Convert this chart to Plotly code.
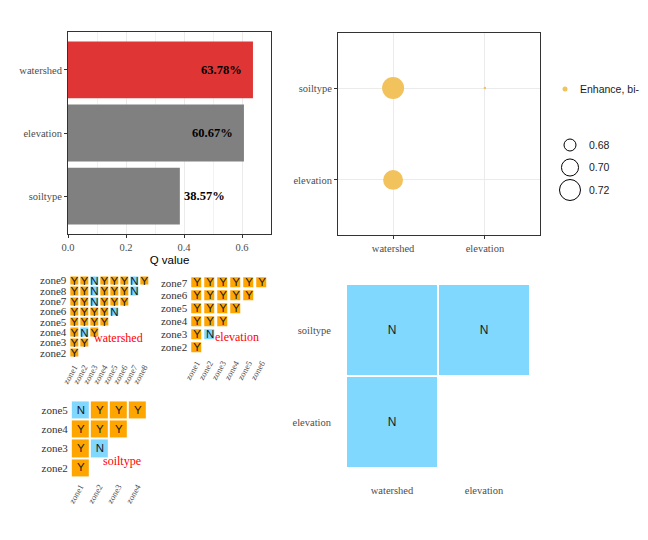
import numpy as np
import plotly.graph_objects as go

# factor detector (q values)
factors = ["watershed", "elevation", "soiltype"]
q_value = [0.6378, 0.6067, 0.3857]
bar_colors = ["#E03535", "#808080", "#808080"]

# interaction detector
inter_x = ["watershed", "elevation", "watershed"]
inter_y = ["soiltype", "soiltype", "elevation"]
inter_q = [0.726, 0.661, 0.714]
inter_type = ["Enhance, bi-", "Enhance, bi-", "Enhance, bi-"]
size_breaks = [0.68, 0.70, 0.72]

# risk detector: rows zone2..zoneN, each row compares with zone1..zone(k-1)
watershed_sig = ["Y", "YY", "YNY", "YYYY", "YYYYN", "YYNYYY", "YYNYYYN", "YYNYYYNY"]
elevation_sig = ["Y", "YN", "YYY", "YYYY", "YYYYY", "YYYYYY"]
soiltype_sig = ["Y", "YN", "YYY", "NYYY"]

# ecological detector
eco_x = ["watershed", "elevation", "watershed"]
eco_y = ["soiltype", "soiltype", "elevation"]
eco_sig = ["N", "N", "N"]

ORANGE = "#FFA500"
BLUE = "#80D8FF"
BUBBLE = "#F2C25C"
SERIF = "Liberation Serif, Times New Roman, serif"
SANS = "Liberation Sans, Arial, sans-serif"
W, H = 648, 540
OFF = 8  # page body margin


def px_x(a, b):
    return [(a - OFF) / W, (b - OFF) / W]


def px_y(top, bottom):
    return [1 - (bottom - OFF) / H, 1 - (top - OFF) / H]


def bubble_size(v):
    return np.sqrt(np.clip(144 + (np.asarray(v) - 0.68) * 7400, 6, None))


def sig_grid(rows):
    n = len(rows) + 1
    zones = ["zone%d" % i for i in range(1, n + 1)]
    xs = zones[:-1]
    ys = zones[1:]
    z, txt = [], []
    for r in rows:
        z.append([(1 if c == "Y" else 0) for c in r] + [None] * (len(xs) - len(r)))
        txt.append(list(r) + [""] * (len(xs) - len(r)))
    return xs, ys, z, txt


fig = go.Figure()

# ---- bar chart
fig.add_trace(go.Bar(
    x=q_value, y=factors, orientation="h", marker=dict(color=bar_colors, line=dict(width=0)),
    width=0.9, xaxis="x", yaxis="y", showlegend=False
))
for f, v in zip(factors, q_value):
    inside = v > 0.5
    fig.add_annotation(
        x=v, y=f, xref="x", yref="y", text="%.2f%%" % (v * 100), showarrow=False,
        xanchor="right" if inside else "left", xshift=-9 if inside else 2,
        font=dict(family=SERIF, size=12.5, color="black", weight="bold")
    )

# ---- interaction bubbles
fig.add_trace(go.Scatter(
    x=inter_x, y=inter_y, mode="markers",
    marker=dict(size=bubble_size(inter_q), color=BUBBLE, opacity=1, line=dict(width=0)),
    xaxis="x2", yaxis="y2", showlegend=False
))

# size legend
fig.add_trace(go.Scatter(
    x=[0] * len(size_breaks), y=["%.2f" % b for b in size_breaks], mode="markers",
    marker=dict(size=bubble_size(size_breaks), color="rgba(0,0,0,0)", opacity=1,
                line=dict(width=1, color="black")),
    xaxis="x8", yaxis="y8", showlegend=False
))

# colour legend
types = list(dict.fromkeys(inter_type))
fig.add_trace(go.Scatter(
    x=[0] * len(types), y=types, mode="markers",
    marker=dict(size=5, color=BUBBLE, opacity=1),
    xaxis="x9", yaxis="y9", showlegend=False
))

# ---- risk grids
colorscale = [[0, BLUE], [0.5, BLUE], [0.5, ORANGE], [1, ORANGE]]
for rows, ax, gap in [(watershed_sig, "4", 2), (elevation_sig, "5", 3), (soiltype_sig, "6", 2)]:
    xs, ys, z, txt = sig_grid(rows)
    fig.add_trace(go.Heatmap(
        x=xs, y=ys, z=z, text=txt, texttemplate="%{text}",
        textfont=dict(family=SANS, size=11.5, color="#1a1a1a"),
        colorscale=colorscale, zmin=0, zmax=1, showscale=False, xgap=gap, ygap=gap,
        xaxis="x" + ax, yaxis="y" + ax, hoverinfo="skip"
    ))

# ---- ecological detector
fig.add_trace(go.Heatmap(
    x=eco_x, y=eco_y, z=[0] * len(eco_sig), text=eco_sig, texttemplate="%{text}",
    textfont=dict(family=SANS, size=12, color="#1a1a1a"),
    colorscale=colorscale, zmin=0, zmax=1, showscale=False, xgap=2, ygap=2,
    xaxis="x7", yaxis="y7", hoverinfo="skip"
))

tickfont = dict(family=SERIF, size=10.5, color="#4d4d4d")
frame = dict(showline=True, mirror=True, linecolor="#333333", linewidth=1)
hidden = dict(showgrid=False, zeroline=False, showticklabels=False, ticks="", showline=False)

grid_x = dict(type="category", dtick=1, showgrid=False, zeroline=False, ticks="", tickangle=-60,
              tickfont=dict(family=SERIF, size=8.5, color="#4d4d4d"), ticklabelstandoff=2)
grid_y = dict(type="category", dtick=1, showgrid=False, zeroline=False, ticks="",
              tickfont=dict(family=SERIF, size=11, color="#333333"), ticklabelstandoff=2)

fig.update_layout(
    width=W, height=H, margin=dict(l=0, r=0, t=0, b=0, autoexpand=False),
    paper_bgcolor="white", plot_bgcolor="white", showlegend=False,
    xaxis=dict(domain=px_x(68, 271), anchor="y", range=[0, 0.70], dtick=0.2, tickformat=".1f",
               showgrid=True, gridcolor="#EBEBEB", zeroline=False,
               minor=dict(dtick=0.1, showgrid=True, gridcolor="#F2F2F2"),
               ticks="outside", ticklen=3, tickcolor="#333333", tickfont=tickfont,
               title=dict(text="Q value", font=dict(family=SANS, size=11.5, color="black"), standoff=4),
               **frame),
    yaxis=dict(domain=px_y(32, 234), anchor="x", type="category",
               categoryarray=factors[::-1], categoryorder="array", range=[-0.6, 2.6],
               showgrid=False, ticks="outside", ticklen=3, tickcolor="#333333", tickfont=tickfont,
               **frame),
    xaxis2=dict(domain=px_x(338, 540), anchor="y2", type="category",
                categoryarray=["watershed", "elevation"], categoryorder="array", range=[-0.6, 1.6],
                showgrid=True, gridcolor="#EBEBEB", ticks="outside", ticklen=3,
                tickcolor="#333333", tickfont=tickfont, **frame),
    yaxis2=dict(domain=px_y(33, 235), anchor="x2", type="category",
                categoryarray=["elevation", "soiltype"], categoryorder="array", range=[-0.6, 1.6],
                showgrid=True, gridcolor="#EBEBEB", ticks="outside", ticklen=3,
                tickcolor="#333333", tickfont=tickfont, **frame),
    xaxis8=dict(domain=px_x(554, 586), anchor="y8", range=[-1, 1], **hidden),
    yaxis8=dict(domain=px_y(133.75, 201.25), anchor="x8", side="right", type="category",
                categoryarray=["%.2f" % b for b in size_breaks[::-1]], categoryorder="array",
                range=[-0.5, 2.5], showgrid=False, zeroline=False, ticks="", showline=False,
                ticklabelstandoff=2, tickfont=dict(family=SANS, size=10.5, color="#1a1a1a")),
    xaxis9=dict(domain=px_x(552, 578), anchor="y9", range=[-1, 1], **hidden),
    yaxis9=dict(domain=px_y(79, 99), anchor="x9", side="right", type="category",
                showgrid=False, zeroline=False, ticks="", showline=False,
                ticklabelstandoff=1, tickfont=dict(family=SANS, size=10.5, color="#1a1a1a")),
    xaxis4=dict(domain=px_x(69.3, 149.3), anchor="y4", **grid_x),
    yaxis4=dict(domain=px_y(275.5, 357.8), anchor="x4", **grid_y),
    xaxis5=dict(domain=px_x(190.2, 268.2), anchor="y5", **grid_x),
    yaxis5=dict(domain=px_y(276.2, 353.8), anchor="x5", **grid_y),
    xaxis6=dict(domain=px_x(70.8, 146.8), anchor="y6", **grid_x),
    yaxis6=dict(domain=px_y(400.4, 477.3), anchor="x6", **grid_y),
    xaxis7=dict(domain=px_x(346, 530), anchor="y7", type="category",
                categoryarray=["watershed", "elevation"], categoryorder="array",
                showgrid=False, zeroline=False, ticks="", ticklabelstandoff=14, tickfont=tickfont),
    yaxis7=dict(domain=px_y(284, 468), anchor="x7", type="category",
                categoryarray=["elevation", "soiltype"], categoryorder="array",
                showgrid=False, zeroline=False, ticks="", ticklabelstandoff=14, tickfont=tickfont),
)
fig.update_xaxes(automargin=False)
fig.update_yaxes(automargin=False)

# detector labels on the risk grids
for name, cx, cy in [("watershed", 118, 338), ("elevation", 237, 337), ("soiltype", 122, 461)]:
    fig.add_annotation(text=name, x=(cx - OFF) / W, y=1 - (cy - OFF) / H, xref="paper", yref="paper",
                       xanchor="center", yanchor="middle", showarrow=False,
                       font=dict(family=SERIF, size=12, color="#FF0000"))

fig.write_html("out.html")
